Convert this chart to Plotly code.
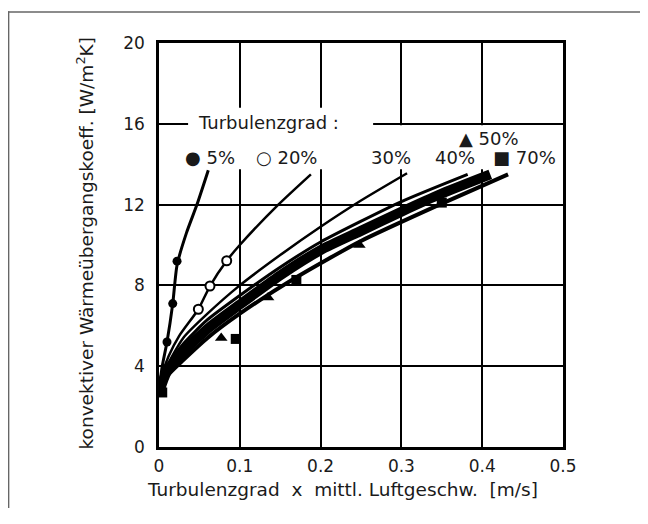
import plotly.graph_objects as go

FONT = "DejaVu Sans"
INK = "#1a1a1a"

# Fitted curves
x5 = [0.0, 0.004, 0.0099, 0.017, 0.0223, 0.034, 0.047, 0.061]
y5 = [2.8, 4.0, 5.2, 7.1, 9.0, 10.6, 12.0, 13.7]

x20 = [0.0, 0.004, 0.012, 0.025, 0.0487, 0.0631, 0.0838, 0.1, 0.1477, 0.188]
y20 = [2.8, 3.6, 4.5, 5.5, 6.82, 7.97, 9.22, 10.0, 12.0, 13.5]

x30 = [0.0, 0.01, 0.03, 0.06, 0.1, 0.15, 0.2, 0.25, 0.307]
y30 = [2.8, 4.0, 5.4, 6.6, 8.0, 9.5, 10.9, 12.2, 13.55]

x40 = [0.0, 0.01, 0.03, 0.06, 0.1, 0.15, 0.2, 0.3, 0.382]
y40 = [2.8, 4.0, 5.1, 6.3, 7.5, 8.9, 10.15, 12.15, 13.5]

x50 = [0.0, 0.01, 0.03, 0.06, 0.1, 0.15, 0.2, 0.25, 0.3, 0.35, 0.41]
y50 = [2.7, 3.75, 4.7, 5.85, 7.05, 8.5, 9.75, 10.7, 11.65, 12.55, 13.5]

x70 = [0.0, 0.01, 0.03, 0.06, 0.1, 0.17, 0.25, 0.35, 0.432]
y70 = [2.6, 3.5, 4.3, 5.4, 6.6, 8.4, 10.2, 12.05, 13.5]

# Measured points
m5_x = [0.0099, 0.017, 0.0223]
m5_y = [5.2, 7.1, 9.2]
m20_x = [0.0487, 0.0631, 0.0838]
m20_y = [6.82, 7.97, 9.22]
m50_x = [0.077, 0.135, 0.248]
m50_y = [5.4, 7.4, 10.0]
m70_x = [0.004, 0.095, 0.17, 0.35]
m70_y = [2.7, 5.35, 8.27, 12.1]

# Labels
label_text = ["● 5%", "○ 20%", "30%", "40%", "▲ 50%", "■ 70%"]
label_x = [0.063, 0.158, 0.287, 0.366, 0.409, 0.452]
label_y = [14.35, 14.35, 14.35, 14.35, 15.25, 14.35]

x_ticks = [0, 0.1, 0.2, 0.3, 0.4, 0.5]
x_tick_text = ["0", "0.1", "0.2", "0.3", "0.4", "0.5"]
y_ticks = [0, 4, 8, 12, 16, 20]

fig = go.Figure()

def line(x, y, w):
    fig.add_trace(go.Scatter(x=x, y=y, mode="lines", line=dict(color="black", width=w, shape="spline", smoothing=0.6),
                             hoverinfo="skip", showlegend=False))

line(x5, y5, 3)
line(x20, y20, 2.5)
line(x30, y30, 2.5)
line(x40, y40, 3)
line(x50, y50, 10)
line(x70, y70, 4)

fig.add_trace(go.Scatter(x=m5_x, y=m5_y, mode="markers", marker=dict(symbol="circle", size=9, color="black"), showlegend=False))
fig.add_trace(go.Scatter(x=m20_x, y=m20_y, mode="markers",
                         marker=dict(symbol="circle", size=9, color="white", line=dict(color="black", width=2)), showlegend=False))
fig.add_trace(go.Scatter(x=m50_x, y=m50_y, mode="markers", marker=dict(symbol="triangle-up", size=11, color="black"), showlegend=False))
fig.add_trace(go.Scatter(x=m70_x, y=m70_y, mode="markers", marker=dict(symbol="square", size=10, color="black"), showlegend=False))

shapes = [
    # white areas behind the labels (over grid, under traces)
    dict(type="rect", xref="x", yref="y", x0=0.036, x1=0.265, y0=13.75, y1=16.8, fillcolor="white", line=dict(width=0), layer="between"),
    dict(type="rect", xref="x", yref="y", x0=0.265, x1=0.495, y0=13.75, y1=15.93, fillcolor="white", line=dict(width=0), layer="between"),
    # outer frame (top and left) as thin filled strips
    dict(type="rect", xref="paper", yref="paper", x0=-0.374, x1=1.6, y0=1.0749, y1=1.0785,
         fillcolor="#666", line=dict(width=0)),
    dict(type="rect", xref="paper", yref="paper", x0=-0.374, x1=-0.3704, y0=-0.3, y1=1.0785,
         fillcolor="#666", line=dict(width=0)),
]

annotations = [
    dict(x=0.136, y=16.05, xref="x", yref="y", text="Turbulenzgrad :", showarrow=False,
         font=dict(family=FONT, size=18, color=INK), xanchor="center", yanchor="middle"),
]
for t, lx, ly in zip(label_text, label_x, label_y):
    annotations.append(dict(x=lx, y=ly, xref="x", yref="y", text=t, showarrow=False,
                            font=dict(family=FONT, size=18, color=INK), xanchor="center", yanchor="middle"))

annotations += [
    dict(x=0.453, y=-0.106, xref="paper", yref="paper", text="Turbulenzgrad  x  mittl. Luftgeschw.  [m/s]",
         showarrow=False, font=dict(family=FONT, size=18.5, color=INK), xanchor="center", yanchor="middle"),
    dict(x=-0.182, y=0.505, xref="paper", yref="paper", text="konvektiver Wärmeübergangskoeff. [W/m<sup>2</sup>K]",
         showarrow=False, textangle=-90, font=dict(family=FONT, size=18.5, color=INK), xanchor="center", yanchor="middle"),
]

fig.update_layout(
    width=632, height=500,
    margin=dict(l=151, r=77, t=35, b=61),
    paper_bgcolor="white", plot_bgcolor="white",
    shapes=shapes, annotations=annotations,
    xaxis=dict(range=[0, 0.5], tickvals=x_ticks, ticktext=x_tick_text, showgrid=True, gridcolor="black", gridwidth=2,
               showline=True, linecolor="black", linewidth=2.5, mirror=True, zeroline=False, ticks="",
               tickfont=dict(family=FONT, size=17, color=INK), ticklabelstandoff=2),
    yaxis=dict(range=[0, 20], tickvals=y_ticks, showgrid=True, gridcolor="black", gridwidth=2,
               showline=True, linecolor="black", linewidth=2.5, mirror=True, zeroline=False, ticks="",
               tickfont=dict(family=FONT, size=17, color=INK), ticklabelstandoff=8),
    showlegend=False,
)

fig.write_html("out.html")
